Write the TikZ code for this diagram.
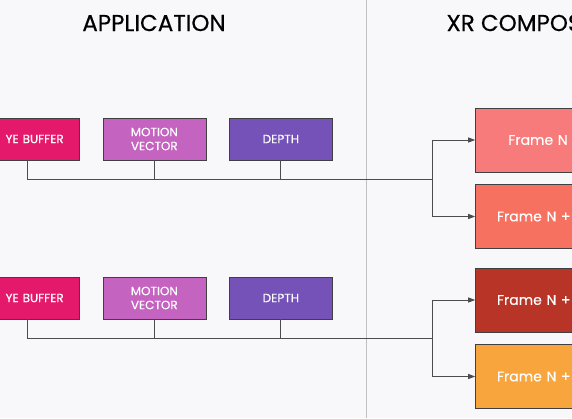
\documentclass[tikz,border=0pt]{standalone}
\usepackage{fontspec}
\setmainfont{Poppins}
\newfontfamily\medfont{Poppins}[FakeBold=0.35]
\usetikzlibrary{arrows.meta,positioning}
\definecolor{bgcol}{HTML}{F8F7FA}
\definecolor{eyecol}{HTML}{E5196B}
\definecolor{motcol}{HTML}{C563C1}
\definecolor{depcol}{HTML}{7552B7}
\definecolor{fcolA}{HTML}{F77B7B}
\definecolor{fcolB}{HTML}{F6715F}
\definecolor{fcolC}{HTML}{B73426}
\definecolor{fcolD}{HTML}{F8A53E}
\tikzset{
  buf/.style = {draw = black!75, line width = 0.6pt, minimum width = 103pt,
    minimum height = 42pt, inner sep = 0pt, text = white, align = center,
    font = \medfont\fontsize{12}{14}\selectfont},
  frm/.style = {draw = black!75, line width = 0.6pt, minimum width = 125pt,
    minimum height = 64pt, inner sep = 0pt, text = white, text width = 82pt,
    align = left, font = \medfont\fontsize{14}{16}\selectfont},
  bus/.style = {draw = black!70, line width = 0.9pt},
  title/.style = {font = \medfont\fontsize{23}{27}\selectfont, text = black}
}
\begin{document}
\begin{tikzpicture}[x = 1pt, y = -1pt, >={Triangle[length = 7pt, width = 5pt]}]
\fill [bgcol] (0,0) rectangle (572,418);
\useasboundingbox (0,0) rectangle (572,418);
\clip (0,0) rectangle (572,418);
\draw [black!25, line width = 0.7pt] (366,0) -- (366,418);
\node [title] (app) at (154,23) {APPLICATION};
\node [title, anchor = west] (xr) at (443,23) {XR COMPOS};
% application buffers
\node [buf, fill = eyecol, text width = 72pt, align = right] (eye1) at (27.7,139) {YE BUFFER};
\node [buf, fill = motcol, right = 23pt of eye1] (mot1) {MOTION\\VECTOR};
\node [buf, fill = depcol, right = 23pt of mot1] (dep1) {DEPTH};
\node [buf, fill = eyecol, text width = 72pt, align = right] (eye2) at (27.7,298) {YE BUFFER};
\node [buf, fill = motcol, right = 23pt of eye2] (mot2) {MOTION\\VECTOR};
\node [buf, fill = depcol, right = 23pt of mot2] (dep2) {DEPTH};
% compositor frames
\node [frm, fill = fcolA, align = center] (fN) at (538,140) {Frame N};
\node [frm, fill = fcolB] (fN1) at (538,216.5) {Frame N +};
\node [frm, fill = fcolC] (fN2) at (538,300) {Frame N +};
\node [frm, fill = fcolD] (fN3) at (538,376.5) {Frame N +};
\coordinate (s1) at (432,179);
\coordinate (s2) at (432,338.7);
% buses
\draw [bus] (eye1.south) |- (s1);
\draw [bus] (mot1.south) -- (mot1.south |- s1);
\draw [bus] (dep1.south) -- (dep1.south |- s1);
\draw [bus, ->] (s1) |- (fN.west);
\draw [bus, ->] (s1) |- (fN1.west);
\draw [bus] (eye2.south) |- (s2);
\draw [bus] (mot2.south) -- (mot2.south |- s2);
\draw [bus] (dep2.south) -- (dep2.south |- s2);
\draw [bus, ->] (s2) |- (fN2.west);
\draw [bus, ->] (s2) |- (fN3.west);
\end{tikzpicture}
\end{document}
